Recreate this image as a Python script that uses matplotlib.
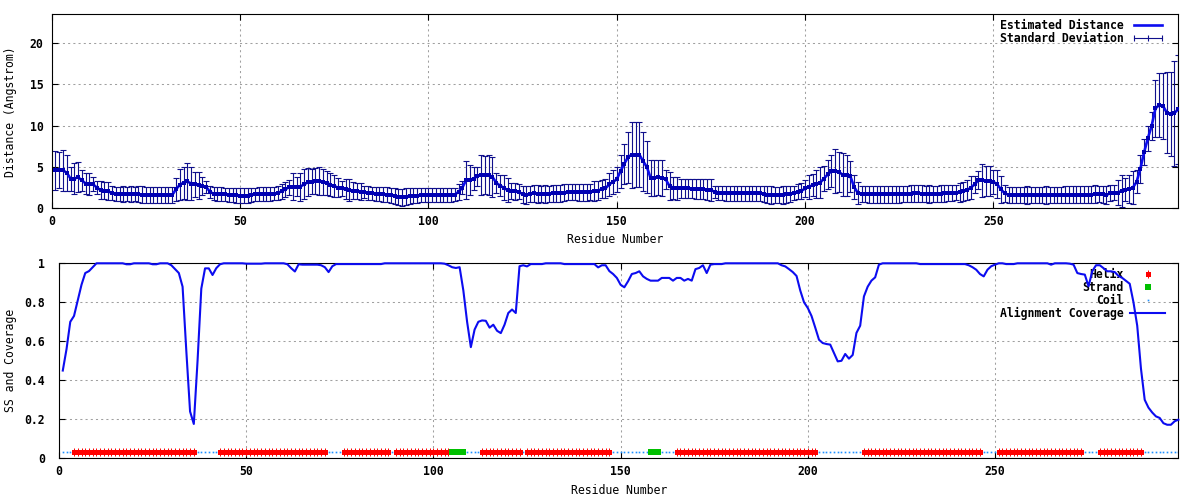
import numpy as np
import matplotlib.pyplot as plt
from matplotlib.lines import Line2D
from matplotlib.ticker import MultipleLocator, FormatStrFormatter

plt.rcParams['font.family'] = 'DejaVu Sans Mono'
plt.rcParams['font.size'] = 8.3
plt.rcParams['font.weight'] = 'bold'

# estimated distance per residue (Angstrom)
mean_dist = [
    4.6, 4.6, 4.6, 4.3, 3.6, 3.6, 3.75, 3.4, 3.0, 2.95,
    2.9, 2.5, 2.2, 2.15, 2.1, 1.8, 1.73, 1.73, 1.75, 1.73,
    1.7, 1.73, 1.7, 1.65, 1.6, 1.6, 1.6, 1.6, 1.62, 1.6,
    1.6, 1.62, 2.3, 2.85, 3.1, 3.25, 3.0, 2.9, 2.8, 2.7,
    2.6, 2.0, 1.75, 1.73, 1.7, 1.7, 1.65, 1.6, 1.6, 1.55,
    1.5, 1.5, 1.6, 1.7, 1.72, 1.72, 1.72, 1.72, 1.75, 1.85,
    2.05, 2.3, 2.55, 2.6, 2.6, 2.62, 2.9, 3.15, 3.2, 3.3,
    3.3, 3.2, 3.1, 2.85, 2.7, 2.5, 2.4, 2.3, 2.2, 2.15,
    2.05, 2.0, 1.95, 1.85, 1.8, 1.78, 1.73, 1.7, 1.65, 1.6,
    1.5, 1.35, 1.33, 1.4, 1.5, 1.55, 1.55, 1.6, 1.6, 1.6,
    1.6, 1.62, 1.62, 1.6, 1.6, 1.62, 1.65, 2.0, 2.5, 3.4,
    3.45, 3.6, 3.9, 4.03, 4.03, 4.03, 3.8, 3.1, 2.75, 2.5,
    2.2, 2.1, 2.05, 2.0, 1.7, 1.6, 1.75, 1.8, 1.73, 1.73,
    1.73, 1.75, 1.8, 1.8, 1.8, 1.9, 2.0, 2.0, 1.95, 1.93,
    1.93, 1.93, 2.0, 2.1, 2.15, 2.3, 2.4, 2.9, 3.2, 3.5,
    4.5, 5.4, 6.2, 6.5, 6.5, 6.5, 5.7, 5.0, 3.65, 3.7,
    3.75, 3.7, 3.5, 2.7, 2.5, 2.42, 2.42, 2.42, 2.4, 2.38,
    2.35, 2.34, 2.3, 2.25, 2.2, 2.0, 1.9, 1.85, 1.8, 1.8,
    1.8, 1.8, 1.8, 1.8, 1.8, 1.8, 1.8, 1.8, 1.75, 1.65,
    1.6, 1.6, 1.6, 1.6, 1.7, 1.75, 1.85, 2.0, 2.1, 2.4,
    2.6, 2.8, 2.95, 3.1, 3.6, 4.1, 4.5, 4.5, 4.4, 4.05,
    4.0, 3.9, 2.6, 1.85, 1.75, 1.73, 1.7, 1.7, 1.7, 1.7,
    1.7, 1.7, 1.7, 1.7, 1.7, 1.72, 1.75, 1.78, 1.8, 1.8,
    1.78, 1.75, 1.75, 1.75, 1.75, 1.78, 1.8, 1.85, 1.85, 1.9,
    1.95, 2.05, 2.2, 2.5, 2.9, 3.4, 3.4, 3.35, 3.3, 3.2,
    2.9, 2.3, 1.8, 1.65, 1.6, 1.6, 1.6, 1.6, 1.6, 1.6,
    1.6, 1.6, 1.6, 1.6, 1.6, 1.6, 1.62, 1.62, 1.65, 1.65,
    1.65, 1.65, 1.65, 1.65, 1.65, 1.65, 1.7, 1.73, 1.7, 1.6,
    1.85, 1.9, 1.9, 2.1, 2.25, 2.3, 2.5, 3.2, 4.8, 6.8,
    8.5, 10.0, 12.1, 12.5, 12.4, 11.6, 11.45, 11.5, 12.0,
]

# standard deviation per residue
std_dist = [
    2.4, 2.2, 2.5, 2.2, 1.45, 1.85, 1.8, 1.25, 1.3, 1.35,
    0.85, 0.8, 1.1, 1.05, 1.1, 0.85, 0.9, 0.9, 0.95, 0.9,
    0.95, 0.9, 0.95, 1.0, 0.95, 0.95, 1.0, 0.95, 0.95, 1.0,
    0.95, 1.0, 1.4, 1.87, 1.94, 2.28, 2.04, 1.54, 1.64, 1.13,
    0.75, 0.7, 0.8, 0.8, 0.85, 0.8, 0.85, 0.85, 0.9, 0.85,
    0.9, 0.9, 0.85, 0.8, 0.8, 0.85, 0.8, 0.8, 0.8, 0.85,
    0.95, 0.9, 0.9, 1.64, 1.15, 1.68, 1.82, 1.69, 1.52, 1.54,
    1.66, 1.6, 1.46, 1.39, 1.33, 1.13, 0.95, 1.2, 1.3, 1.08,
    0.97, 1.02, 0.75, 0.8, 0.8, 0.85, 0.85, 0.9, 0.9, 0.9,
    0.95, 1.0, 1.0, 1.0, 0.95, 0.9, 0.9, 0.85, 0.85, 0.85,
    0.8, 0.8, 0.8, 0.82, 0.82, 0.8, 0.8, 1.0, 0.8, 2.3,
    1.8, 1.4, 1.15, 2.43, 2.31, 2.43, 2.46, 1.2, 1.3, 1.5,
    1.43, 1.0, 1.05, 0.9, 1.0, 1.1, 0.95, 1.0, 1.05, 1.0,
    1.05, 1.0, 1.0, 1.05, 1.0, 1.0, 0.95, 1.0, 1.0, 1.05,
    1.0, 1.0, 1.0, 1.2, 1.2, 1.1, 1.1, 1.4, 1.44, 1.54,
    2.0, 2.4, 3.1, 4.0, 3.9, 3.9, 3.6, 3.1, 2.2, 2.15,
    2.1, 2.15, 1.14, 1.74, 1.33, 1.41, 1.15, 1.15, 1.15, 1.15,
    1.2, 1.2, 1.2, 1.25, 1.3, 0.75, 0.85, 0.9, 0.9, 0.9,
    0.9, 0.95, 0.9, 0.9, 0.95, 0.9, 0.9, 0.9, 0.95, 1.0,
    1.05, 1.0, 1.0, 1.05, 1.0, 0.95, 0.9, 0.9, 1.0, 1.03,
    1.44, 1.3, 1.69, 1.9, 1.53, 1.75, 1.96, 2.65, 2.46, 2.6,
    2.46, 1.87, 1.44, 1.38, 0.95, 1.0, 1.0, 1.05, 1.0, 1.0,
    1.05, 1.0, 1.0, 1.0, 1.05, 1.0, 1.0, 1.0, 1.0, 1.0,
    1.0, 1.0, 1.05, 1.0, 1.0, 1.0, 1.0, 1.0, 0.95, 0.9,
    1.15, 1.15, 1.23, 1.42, 1.0, 1.1, 2.0, 1.8, 1.8, 1.5,
    1.7, 1.6, 1.0, 0.95, 1.0, 1.0, 1.0, 1.0, 1.05, 1.0,
    1.0, 1.0, 1.0, 1.05, 1.0, 1.0, 1.0, 1.0, 1.05, 1.0,
    1.0, 1.0, 1.0, 1.05, 1.0, 1.05, 1.1, 1.0, 1.0, 1.05,
    1.0, 0.92, 1.5, 1.9, 1.4, 1.7, 2.0, 1.4, 1.7, 1.6,
    1.5, 1.7, 3.45, 3.9, 4.0, 4.96, 5.1, 6.4, 6.6,
]

# alignment coverage per residue
coverage = [
    0.45, 0.56, 0.70, 0.73, 0.81, 0.89, 0.95, 0.96, 0.98, 1.0,
    1.0, 1.0, 1.0, 1.0, 1.0, 1.0, 1.0, 0.995, 0.995, 1.0,
    1.0, 1.0, 1.0, 1.0, 0.995, 0.995, 1.0, 1.0, 1.0, 0.99,
    0.97, 0.95, 0.88, 0.55, 0.24, 0.176, 0.50, 0.87, 0.974, 0.974,
    0.94, 0.975, 0.995, 1.0, 1.0, 1.0, 1.0, 1.0, 1.0, 0.998,
    0.998, 0.998, 0.998, 0.998, 1.0, 1.0, 1.0, 1.0, 1.0, 1.0,
    0.995, 0.975, 0.958, 0.995, 0.993, 0.993, 0.993, 0.993, 0.993, 0.99,
    0.98, 0.955, 0.985, 0.996, 0.996, 0.996, 0.996, 0.996, 0.996, 0.996,
    0.996, 0.996, 0.996, 0.996, 0.996, 0.996, 1.0, 1.0, 1.0, 1.0,
    1.0, 1.0, 1.0, 1.0, 1.0, 1.0, 1.0, 1.0, 1.0, 1.0,
    1.0, 1.0, 0.998, 0.99, 0.98, 0.976, 0.98, 0.86, 0.70, 0.57,
    0.66, 0.70, 0.707, 0.705, 0.67, 0.685, 0.654, 0.642, 0.685, 0.745,
    0.763, 0.745, 0.985, 0.99, 0.984, 0.996, 0.996, 0.996, 0.996, 1.0,
    1.0, 1.0, 1.0, 1.0, 0.996, 0.996, 0.996, 0.996, 0.996, 0.996,
    0.996, 0.996, 0.996, 0.979, 0.99, 0.99, 0.96, 0.945, 0.925, 0.89,
    0.877, 0.908, 0.945, 0.95, 0.959, 0.933, 0.92, 0.911, 0.911, 0.911,
    0.925, 0.925, 0.925, 0.911, 0.925, 0.925, 0.911, 0.92, 0.911, 0.97,
    0.976, 0.99, 0.95, 0.993, 0.996, 0.996, 0.996, 1.0, 1.0, 1.0,
    1.0, 1.0, 1.0, 1.0, 1.0, 1.0, 1.0, 1.0, 1.0, 1.0,
    1.0, 1.0, 0.99, 0.984, 0.97, 0.955, 0.935, 0.86, 0.80, 0.771,
    0.73, 0.67, 0.608, 0.591, 0.586, 0.583, 0.54, 0.497, 0.50, 0.535,
    0.511, 0.53, 0.643, 0.68, 0.83, 0.88, 0.911, 0.928, 0.993, 1.0,
    1.0, 1.0, 1.0, 1.0, 1.0, 1.0, 1.0, 1.0, 1.0, 0.996,
    0.996, 0.996, 0.996, 0.996, 0.996, 0.996, 0.996, 0.996, 0.996, 0.996,
    0.996, 0.996, 0.99, 0.98, 0.967, 0.945, 0.933, 0.967, 0.985, 0.993,
    1.0, 1.0, 0.996, 0.996, 0.996, 1.0, 1.0, 1.0, 1.0, 1.0,
    1.0, 1.0, 1.0, 1.0, 0.993, 1.0, 1.0, 1.0, 1.0, 0.998,
    0.993, 0.95, 0.945, 0.942, 0.882, 0.96, 0.99, 0.99, 0.975, 0.959,
    0.959, 0.955, 0.935, 0.925, 0.91, 0.895, 0.80, 0.68, 0.46, 0.30,
    0.26, 0.235, 0.215, 0.207, 0.18, 0.172, 0.172, 0.19, 0.198,
]

# secondary structure: (type, first residue, last residue)
ss_segments = [
    ('C', 1, 3), ('H', 4, 36), ('C', 37, 42), ('H', 43, 71), ('C', 72, 75),
    ('H', 76, 88), ('C', 89, 89), ('H', 90, 104), ('E', 105, 108),
    ('C', 109, 112), ('H', 113, 123), ('C', 124, 124), ('H', 125, 147),
    ('C', 148, 157), ('E', 158, 160), ('C', 161, 164), ('H', 165, 202),
    ('C', 203, 214), ('H', 215, 246), ('C', 247, 250), ('H', 251, 273),
    ('C', 274, 277), ('H', 278, 289), ('C', 290, 299),
]
ss_level = 0.03

residues = np.arange(1, len(mean_dist) + 1)
ss = []
for kind, a, b in ss_segments:
    ss += [kind] * (b - a + 1)
ss = np.array(ss)
ss_y = np.full(len(residues), ss_level)

c_line = '#0c0cf0'
c_err = '#10108c'
c_helix = '#ff0000'
c_strand = '#00c000'
c_coil = '#1e90ff'

fig = plt.figure(figsize=(12, 5), dpi=100)
ax1 = fig.add_axes([0.0431, 0.5834, 0.9386, 0.388])
ax2 = fig.add_axes([0.0492, 0.0834, 0.9328, 0.39])

for ax in (ax1, ax2):
    ax.set_xlim(0, 299)
    ax.xaxis.set_major_locator(MultipleLocator(50))
    ax.tick_params(direction='in', top=True, right=True, length=4.5, width=0.8,
                   labelsize=8.3, pad=5)
    ax.grid(True, color='#a0a0a0', linestyle=(0, (2, 3)), linewidth=0.75)
    ax.set_axisbelow(True)
    for s in ax.spines.values():
        s.set_linewidth(0.8)

# top: distance with error bars
ax1.errorbar(residues, mean_dist, yerr=std_dist, fmt='none', ecolor=c_err,
             elinewidth=0.8, capsize=2.0, capthick=0.8, zorder=2)
ax1.plot(residues, mean_dist, color=c_line, lw=1.9, zorder=3)
ax1.plot(residues, mean_dist, 's', color='#0000b4', ms=2.2, mew=0, zorder=4)
ax1.set_ylim(0, 23.5)
ax1.yaxis.set_major_locator(MultipleLocator(5))
ax1.tick_params(axis='y', pad=6)
ax1.set_ylabel('Distance (Angstrom)', va='center')
ax1.yaxis.set_label_coords(-0.0363, 0.5)
ax1.set_xlabel('Residue Number', va='center')
ax1.xaxis.set_label_coords(0.5, -0.163)

h_mean = Line2D([], [], color=c_line, lw=1.9)
h_sd = Line2D([], [], color=c_err, lw=0.8, marker='|', ms=5, mew=0.8)
ax1.legend([h_mean, h_sd], ['Estimated Distance', 'Standard Deviation'],
           loc='upper right', bbox_to_anchor=(0.9885, 0.974), frameon=False,
           markerfirst=False, borderpad=0, borderaxespad=0, handlelength=3.0,
           handletextpad=0.6, labelspacing=0, numpoints=3, fontsize=8.3)

# bottom: secondary structure and coverage
coil = ss == 'C'
helix = ss == 'H'
strand = ss == 'E'
ax2.plot(residues[coil], ss_y[coil], 's', color=c_coil, ms=1.2, mew=0, zorder=2)
ax2.plot(residues[helix], ss_y[helix], 's', color=c_helix, ms=3.6, mew=0, zorder=2)
ax2.plot(residues[helix], ss_y[helix], '|', color=c_helix, ms=5.2, mew=0.7, zorder=2)
ax2.plot(residues[strand], ss_y[strand], 's', color=c_strand, ms=5, mew=0, zorder=2)
ax2.plot(residues, coverage, color=c_line, lw=1.5, zorder=3, clip_on=False)
ax2.set_ylim(0, 1)
ax2.yaxis.set_major_locator(MultipleLocator(0.2))
ax2.yaxis.set_major_formatter(FormatStrFormatter('%g'))
ax2.tick_params(axis='y', pad=10)
ax2.set_ylabel('SS and Coverage', fontweight='normal', va='center')
ax2.yaxis.set_label_coords(-0.0431, 0.5)
ax2.set_xlabel('Residue Number', va='center')
ax2.xaxis.set_label_coords(0.5, -0.1626)

h_helix = (Line2D([], [], ls='none', marker='s', color=c_helix, ms=3.6, mew=0),
           Line2D([], [], ls='none', marker='|', color=c_helix, ms=5.2, mew=0.7))
h_strand = Line2D([], [], ls='none', marker='s', color=c_strand, ms=5, mew=0)
h_coil = Line2D([], [], ls='none', marker='s', color=c_coil, ms=1.2, mew=0)
h_cov = Line2D([], [], color=c_line, lw=1.5)
leg2 = ax2.legend([h_helix, h_strand, h_coil, h_cov],
                  ['Helix', 'Strand', 'Coil', 'Alignment Coverage'],
                  loc='upper right', bbox_to_anchor=(0.9881, 0.978), frameon=False,
                  markerfirst=False, borderpad=0, borderaxespad=0, handlelength=3.0,
                  handletextpad=0.6, labelspacing=0, numpoints=1, fontsize=8.3)
leg2.set_zorder(2.5)

fig.savefig('out.png', dpi=100)
